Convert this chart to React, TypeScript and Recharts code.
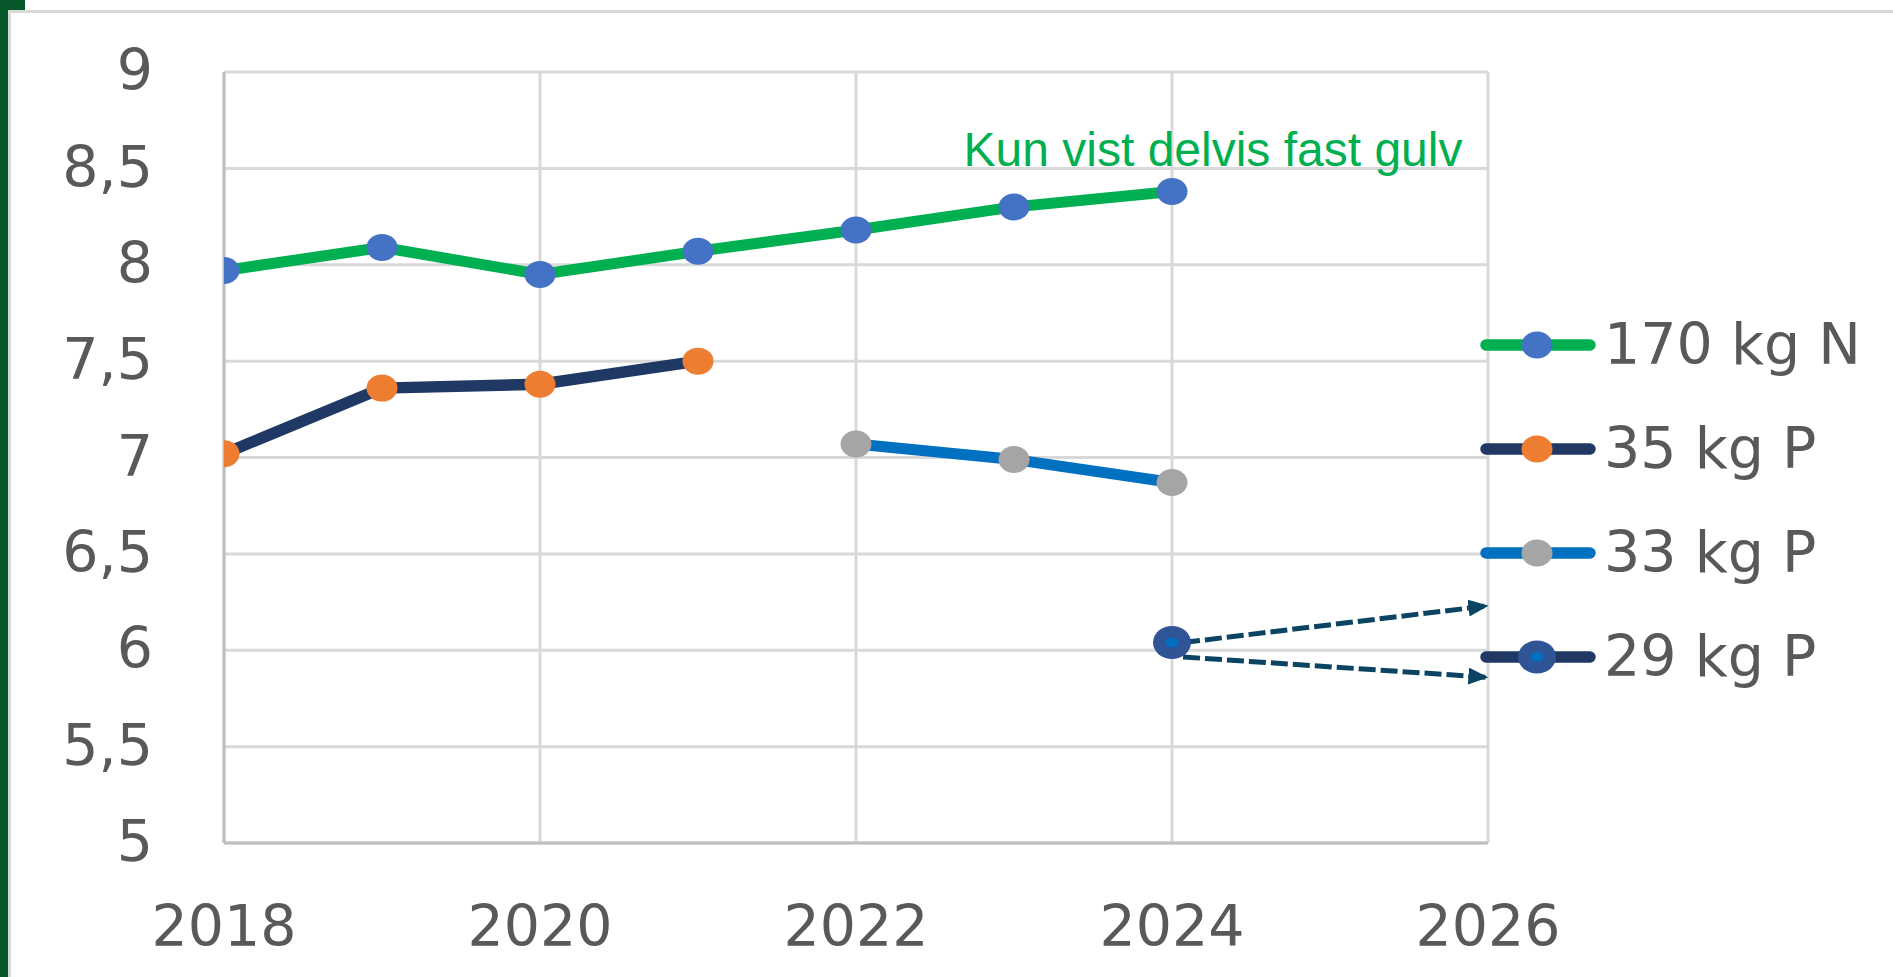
import React from 'react';
import { LineChart, Line, XAxis, YAxis, CartesianGrid, ReferenceDot } from 'recharts';

// ---- data ----
const years170 = [2018, 2019, 2020, 2021, 2022, 2023, 2024];
const vals170 = [7.97, 8.09, 7.95, 8.07, 8.18, 8.3, 8.38];
const years35 = [2018, 2019, 2020, 2021];
const vals35 = [7.02, 7.36, 7.38, 7.5];
const years33 = [2022, 2023, 2024];
const vals33 = [7.07, 6.99, 6.87];
const years29 = [2024];
const vals29 = [6.04];
const arrowUpX = [2024.07, 2025.99];
const arrowUpY = [6.04, 6.23];
const arrowDownX = [2024.07, 2025.99];
const arrowDownY = [5.965, 5.86];
const xTicks = [2018, 2020, 2022, 2024, 2026];
const yTicks = [5, 5.5, 6, 6.5, 7, 7.5, 8, 8.5, 9];
const seriesNames = ['170 kg N', '35 kg P', '33 kg P', '29 kg P'];
const annotation = 'Kun vist delvis fast gulv';

const zip = (xs: number[], ys: number[]) => xs.map((x, i) => ({ x, y: ys[i] }));
const d170 = zip(years170, vals170);
const d35 = zip(years35, vals35);
const d33 = zip(years33, vals33);
const d29 = zip(years29, vals29);
const dUp = zip(arrowUpX, arrowUpY);
const dDown = zip(arrowDownX, arrowDownY);

const TICK_FONT = '"DejaVu Sans", sans-serif';
const TICK_COLOR = '#595959';
const FS = 57;

const dotMaker = (fill: string) => (p: any) => {
  if (p.cx == null || p.cy == null) return <g key={p.index} />;
  return <ellipse key={p.index} cx={p.cx} cy={p.cy} rx={15.5} ry={13.5} fill={fill} />;
};
const dot29 = (p: any) => {
  if (p.cx == null || p.cy == null) return <g key={p.index} />;
  return (
    <g key={p.index}>
      <ellipse cx={p.cx} cy={p.cy} rx={19} ry={16.5} fill="#2F5597" />
      <ellipse cx={p.cx} cy={p.cy} rx={6.5} ry={4.8} fill="#0070C0" />
    </g>
  );
};

const legendItems = [
  { name: seriesNames[0], line: '#00B050', marker: '#4472C4', big: false },
  { name: seriesNames[1], line: '#203864', marker: '#ED7D31', big: false },
  { name: seriesNames[2], line: '#0070C0', marker: '#A5A5A5', big: false },
  { name: seriesNames[3], line: '#203864', marker: '#2F5597', big: true },
];

const YTick = (p: any) => (
  <text x={p.x} y={p.y} dy={FS * 0.355 - 2} textAnchor="end" fill={TICK_COLOR} fontSize={FS} fontFamily={TICK_FONT}>
    {String(p.payload.value).replace('.', ',')}
  </text>
);
const XTick = (p: any) => (
  <text x={p.x} y={p.y} dy={FS * 0.71} textAnchor="middle" fill={TICK_COLOR} fontSize={FS} fontFamily={TICK_FONT}>
    {String(p.payload.value)}
  </text>
);

export default function App() {
  return (
    <div style={{ position: 'absolute', left: 0, top: 0, width: 1893, height: 977, background: '#fff', overflow: 'hidden' }}>
      {/* frame decorations */}
      <div style={{ position: 'absolute', left: 0, top: 0, width: 8, height: 977, background: '#06572A' }} />
      <div style={{ position: 'absolute', left: 0, top: 0, width: 25, height: 10, background: '#06572A' }} />
      <div style={{ position: 'absolute', left: 8, top: 10, width: 1885, height: 3, background: '#D9D9D9' }} />
      <div style={{ position: 'absolute', left: 8, top: 10, width: 3, height: 967, background: '#D9D9D9' }} />

      <div style={{ position: 'absolute', left: 0, top: 0 }}>
        <LineChart width={1893} height={977} margin={{ top: 72, right: 405, left: 0, bottom: 74 }}>
          <CartesianGrid stroke="#D9D9D9" strokeWidth={3} />
          <XAxis
            dataKey="x"
            type="number"
            domain={[2018, 2026]}
            ticks={xTicks}
            allowDataOverflow
            height={60}
            tickSize={0}
            tickMargin={63}
            axisLine={{ stroke: '#BFBFBF', strokeWidth: 3 }}
            tickLine={false}
            tick={<XTick />}
            interval={0}
          />
          <YAxis
            type="number"
            domain={[5, 9]}
            ticks={yTicks}
            width={224}
            tickSize={0}
            tickMargin={71}
            axisLine={{ stroke: '#BFBFBF', strokeWidth: 3 }}
            tickLine={false}
            interval={0}
            tick={<YTick />}
          />
          <Line data={d170} dataKey="y" name={seriesNames[0]} type="linear" stroke="#00B050" strokeWidth={11} dot={dotMaker('#4472C4')} activeDot={false} isAnimationActive={false} />
          <Line data={d35} dataKey="y" name={seriesNames[1]} type="linear" stroke="#203864" strokeWidth={11.5} dot={dotMaker('#ED7D31')} activeDot={false} isAnimationActive={false} />
          <Line data={d33} dataKey="y" name={seriesNames[2]} type="linear" stroke="#0070C0" strokeWidth={11} dot={dotMaker('#A5A5A5')} activeDot={false} isAnimationActive={false} />
          <Line data={dUp} dataKey="y" type="linear" stroke="#0B4462" strokeWidth={5} strokeDasharray="17 5" dot={false} activeDot={false} markerEnd="url(#arrowHead)" isAnimationActive={false} />
          <Line data={dDown} dataKey="y" type="linear" stroke="#0B4462" strokeWidth={5} strokeDasharray="17 5" dot={false} activeDot={false} markerEnd="url(#arrowHead)" isAnimationActive={false} />
          <Line data={d29} dataKey="y" name={seriesNames[3]} type="linear" stroke="#203864" strokeWidth={11} dot={dot29} activeDot={false} isAnimationActive={false} />
          <ReferenceDot
            x={2024}
            y={8.5}
            r={0}
            shape={(p: any) => (
              <text x={p.cx + 41} y={p.cy - 2} textAnchor="middle" fill="#00B050" fontSize={48} fontFamily='"Liberation Sans", Arial, sans-serif'>
                {annotation}
              </text>
            )}
          />
        </LineChart>
      </div>

      {/* legend */}
      <svg style={{ position: 'absolute', left: 0, top: 0 }} width={1893} height={977} pointerEvents="none">
        <defs>
          <marker id="arrowHead" markerUnits="userSpaceOnUse" markerWidth={20} markerHeight={17} viewBox="0 0 20 17" refX={18} refY={8.5} orient="auto">
            <path d="M0,0 L20,8.5 L0,17 z" fill="#0B4462" />
          </marker>
        </defs>
        {legendItems.map((it, i) => {
          const cy = 345 + i * 104;
          return (
            <g key={it.name}>
              <line x1={1486} y1={cy} x2={1590} y2={cy} stroke={it.line} strokeWidth={11.5} strokeLinecap="round" />
              {it.big ? (
                <g>
                  <ellipse cx={1537} cy={cy} rx={19} ry={16.5} fill="#2F5597" />
                  <ellipse cx={1537} cy={cy} rx={6.5} ry={4.8} fill="#0070C0" />
                </g>
              ) : (
                <ellipse cx={1537} cy={cy} rx={15.5} ry={13.5} fill={it.marker} />
              )}
              <text x={1604} y={cy + 19} fill={TICK_COLOR} fontSize={FS} fontFamily={TICK_FONT}>
                {it.name}
              </text>
            </g>
          );
        })}
      </svg>
    </div>
  );
}
